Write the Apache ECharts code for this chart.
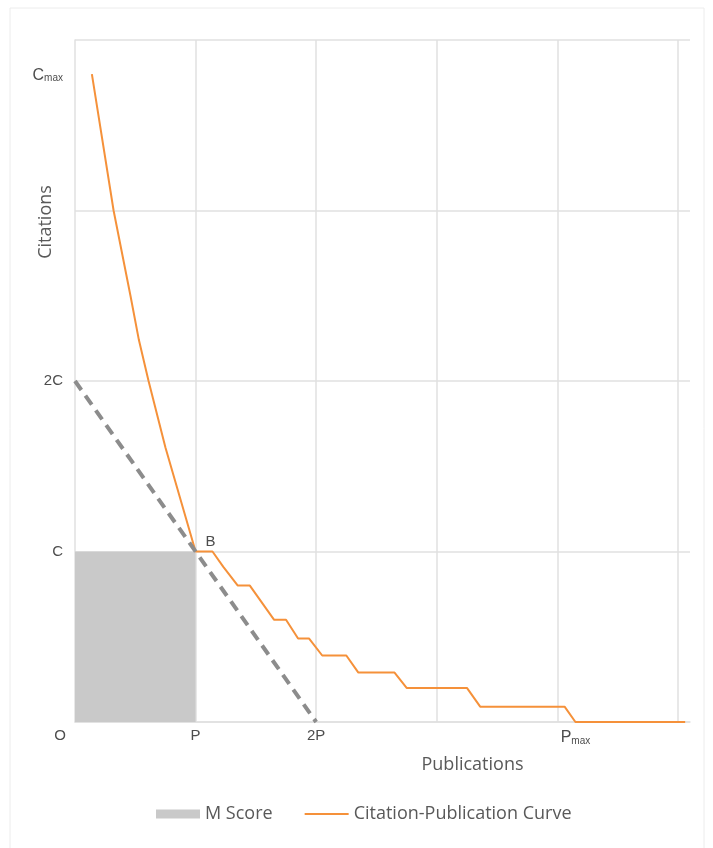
<!DOCTYPE html>
<html><head><meta charset="utf-8">
<script src="https://cdn.jsdelivr.net/npm/echarts@6/dist/echarts.min.js"></script>
<style>html,body{margin:0;padding:0;background:#fff}#c{width:713px;height:848px}</style>
</head><body><div id="c"></div>
<script>
// Citation-publication curve (x in units of P, y in units of C)
const curveX = [0.14, 0.32, 0.46, 0.53, 0.61, 0.75, 1.0, 1.14, 1.23, 1.35, 1.45, 1.65, 1.75, 1.85, 1.94, 2.05, 2.25, 2.35, 2.65, 2.75, 3.25, 3.36, 4.06, 4.15, 5.06];
const curveY = [3.8, 3.0, 2.5, 2.24, 2.0, 1.61, 1.0, 1.0, 0.91, 0.8, 0.8, 0.6, 0.6, 0.49, 0.49, 0.39, 0.39, 0.29, 0.29, 0.2, 0.2, 0.09, 0.09, 0, 0];
// M score rectangle top edge
const mScoreX = [0, 1];
const mScoreY = [1, 1];
// diagonal x + y = 2 (dashed)
const diagX = [0, 2];
const diagY = [2, 0];
// point B
const pointB = [1, 1];
const pointBLabel = 'B';
// tick labels
const xTickValues = [0, 1, 2, 4.15];
const xTickLabels = ['O', 'P', '2P', 'Pmax'];
const yTickValues = [1, 2, 3.8];
const yTickLabels = ['C', '2C', 'Cmax'];

const zip = (a, b) => a.map((v, i) => [v, b[i]]);
const lookup = (vals, labels, v) => {
  const i = vals.findIndex(t => Math.abs(t - v) < 1e-6);
  return i < 0 ? '' : labels[i];
};

const gridColor = '#e0e0e0';
const labelColor = '#4d4d4d';
const richMax = {
  a: {fontFamily: 'Liberation Sans', fontSize: 16, color: labelColor, lineHeight: 18, verticalAlign: 'bottom'},
  b: {fontFamily: 'Liberation Sans', fontSize: 10, color: labelColor, lineHeight: 18, verticalAlign: 'bottom'}
};
const chart = echarts.init(document.getElementById('c'), null, {renderer: 'canvas'});
chart.setOption({
  backgroundColor: '#fff',
  animation: false,
  graphic: [{
    type: 'rect', shape: {x: 10, y: 8, width: 694, height: 860},
    style: {fill: 'none', stroke: '#ececec', lineWidth: 1}, silent: true, z: -10
  }],
  grid: {left: 75, top: 40, right: 23, bottom: 126, containLabel: false, outerBoundsMode: 'none'},
  legend: {
    bottom: 20, left: 151,
    itemWidth: 44, itemHeight: 9, itemGap: 32,
    textStyle: {fontFamily: 'Open Sans', fontSize: 18, color: '#595959'},
    data: [
      {name: 'M Score', icon: 'rect'},
      {name: 'Citation-Publication Curve', icon: 'path://M0,0M0,3.6L44,3.6L44,5.4L0,5.4ZM44,9'}
    ]
  },
  xAxis: {
    type: 'value', min: 0, max: 5.1, interval: 1,
    name: 'Publications', nameLocation: 'middle', nameGap: 34, nameMoveOverlap: false,
    nameTextStyle: {fontFamily: 'Open Sans', fontSize: 18, color: '#595959', padding: [0, 0, 0, 180]},
    axisLine: {show: true, lineStyle: {color: gridColor, width: 1.5}},
    axisTick: {show: false},
    splitLine: {show: true, showMinLine: false, showMaxLine: false, lineStyle: {color: gridColor, width: 1.5}},
    axisLabel: {
      customValues: xTickValues,
      margin: 6,
      color: labelColor, fontFamily: 'Liberation Sans', fontSize: 15,
      formatter: v => {
        const s = lookup(xTickValues, xTickLabels, v);
        if (s === 'O') return '{o|O}';
        if (s.endsWith('max')) return '{a|' + s.slice(0, -3) + '}{b|max}';
        return s;
      },
      rich: Object.assign({
        o: {fontFamily: 'Liberation Sans', fontSize: 15, color: labelColor, padding: [0, 30, 0, 0]}
      }, richMax)
    }
  },
  yAxis: {
    type: 'value', min: 0, max: 4, interval: 1,
    name: 'Citations', nameLocation: 'middle', nameGap: 20, nameMoveOverlap: false,
    nameTextStyle: {fontFamily: 'Open Sans', fontSize: 18, color: '#595959', padding: [0, 0, 0, 318]},
    axisLine: {show: true, lineStyle: {color: gridColor, width: 1.5}},
    axisTick: {show: false},
    splitLine: {show: true, lineStyle: {color: gridColor, width: 1.5}},
    axisLabel: {
      customValues: yTickValues,
      margin: 12,
      color: labelColor, fontFamily: 'Liberation Sans', fontSize: 15,
      formatter: v => {
        const s = lookup(yTickValues, yTickLabels, v);
        if (s.endsWith('max')) return '{a|' + s.slice(0, -3) + '}{b|max}';
        return s;
      },
      rich: richMax
    }
  },
  series: [
    {
      name: 'M Score', type: 'line', data: zip(mScoreX, mScoreY),
      symbol: 'none', lineStyle: {width: 0}, itemStyle: {color: '#c9c9c9'},
      areaStyle: {color: '#c9c9c9', opacity: 1}, z: 1
    },
    {
      name: 'diag', type: 'line', data: zip(diagX, diagY), symbol: 'none',
      lineStyle: {color: '#8c8c8c', width: 4, type: [11, 7]}, itemStyle: {color: '#8c8c8c'}, z: 3
    },
    {
      name: 'Citation-Publication Curve', type: 'line', data: zip(curveX, curveY),
      symbol: 'none', lineStyle: {color: '#f5913a', width: 2}, itemStyle: {color: '#f5913a'}, z: 2,
      markPoint: {
        symbol: 'circle', symbolSize: 0,
        data: [{coord: pointB, label: {show: true, formatter: pointBLabel, position: 'top', distance: 4, offset: [15, 2], color: labelColor, fontFamily: 'Liberation Sans', fontSize: 15}}]
      }
    }
  ]
});
</script></body></html>
